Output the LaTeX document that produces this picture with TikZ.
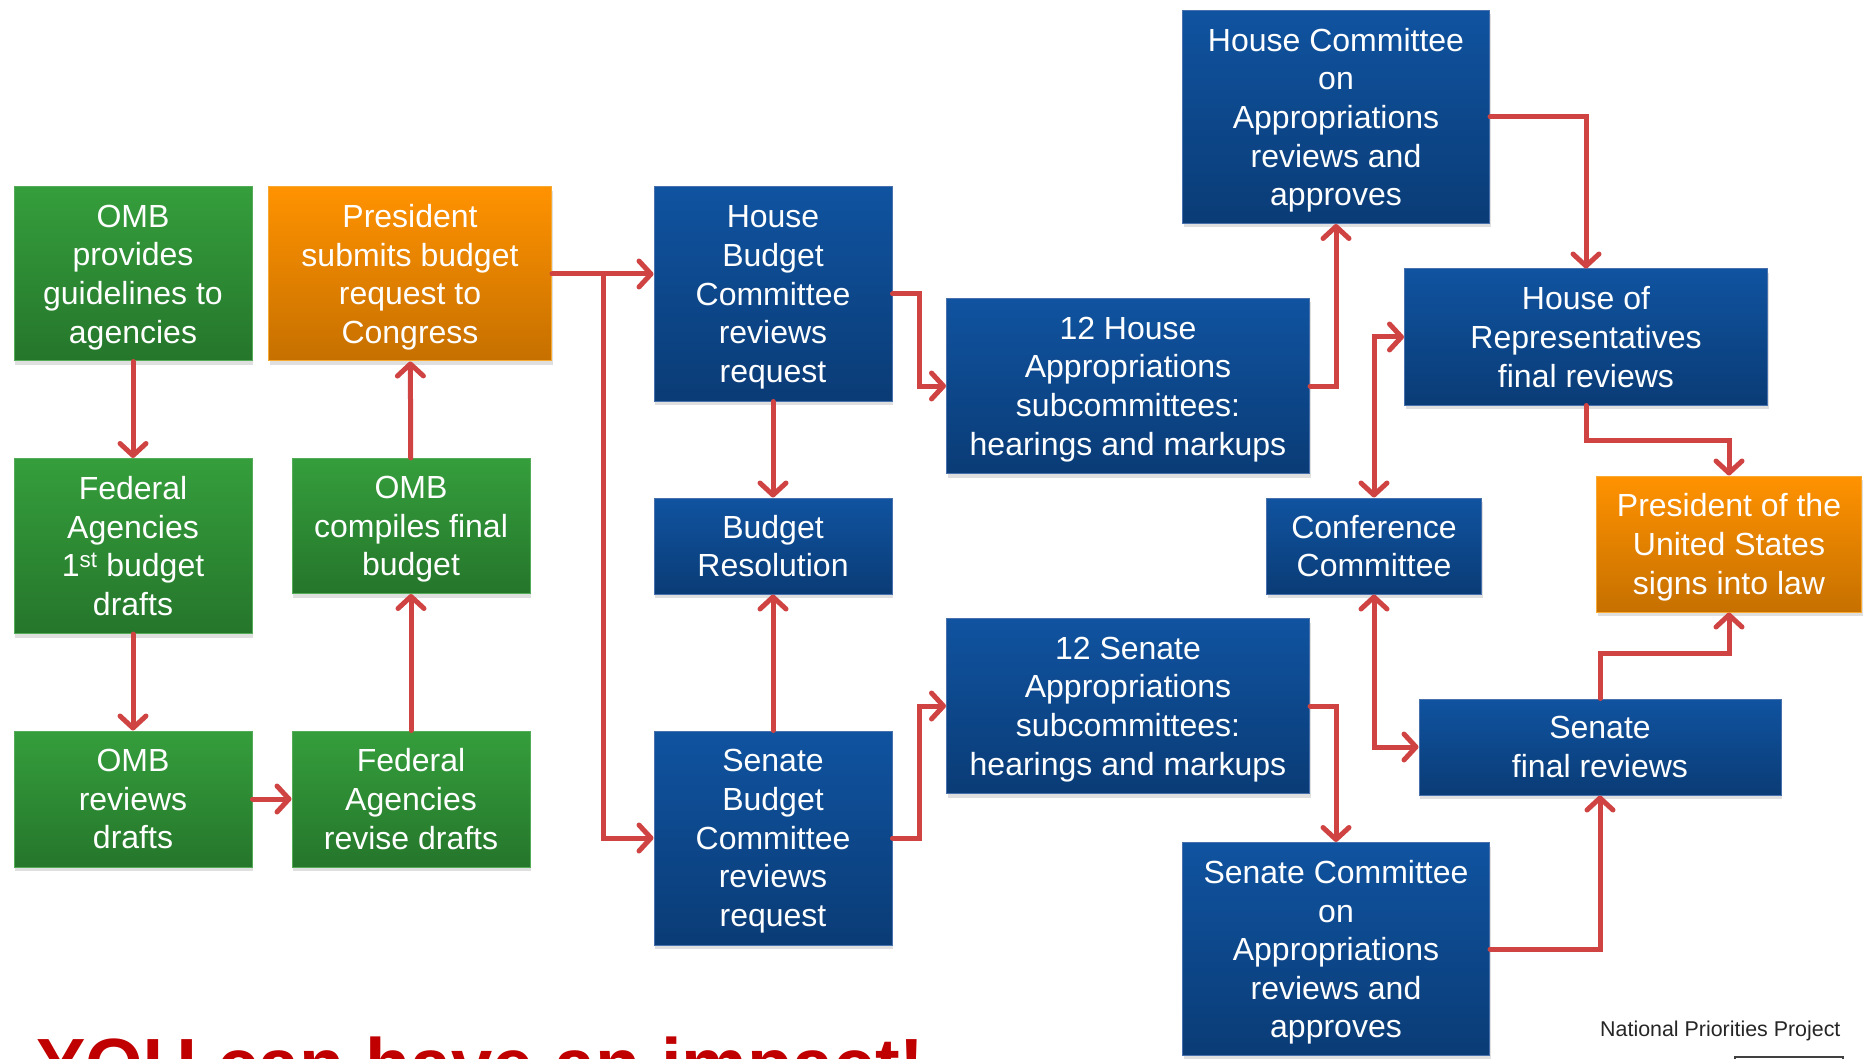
\documentclass[tikz,border=0pt]{standalone}
\usepackage{fontspec}
\setmainfont{Liberation Sans}
\usetikzlibrary{arrows.meta,shadows}

\definecolor{grntop}{RGB}{53,158,60}
\definecolor{grnbot}{RGB}{37,118,43}
\definecolor{grnedge}{RGB}{84,172,88}
\definecolor{orgtop}{RGB}{255,146,0}
\definecolor{orgbot}{RGB}{198,112,0}
\definecolor{orgedge}{RGB}{247,170,50}
\definecolor{blutop}{RGB}{16,83,160}
\definecolor{blubot}{RGB}{10,60,118}
\definecolor{bluedge}{RGB}{72,112,172}
\definecolor{arrowred}{RGB}{208,67,67}
\definecolor{impactred}{RGB}{192,0,0}

\tikzset{
  stage/.style={rectangle, inner sep=0pt, align=center, text=white,
    font=\fontsize{32}{38.6}\selectfont, line width=1pt, text depth=0pt,
    drop shadow={shadow xshift=1pt, shadow yshift=-4pt, opacity=0.25}},
  ombbox/.style={stage, draw=grnedge, top color=grntop, bottom color=grnbot},
  prezbox/.style={stage, draw=orgedge, top color=orgtop, bottom color=orgbot},
  congbox/.style={stage, draw=bluedge, top color=blutop, bottom color=blubot},
  flow/.style={draw=arrowred, line width=5pt, line cap=round,
    -{Straight Barb[length=12pt,width=26pt,round]}},
  flowboth/.style={flow, {Straight Barb[length=12pt,width=26pt,round]}-{Straight Barb[length=12pt,width=26pt,round]}}
}

\begin{document}
\begin{tikzpicture}[x=1pt,y=-1pt]

\fill[white] (0,0) rectangle (1864,1059);
\useasboundingbox (0,0) rectangle (1864,1059);

\node[ombbox, minimum width=238pt, minimum height=174pt] (guide) at (133,274) {OMB\\provides\\guidelines to\\agencies};
\node[prezbox, minimum width=283pt, minimum height=174pt] (submit) at (410,274) {President\\submits budget\\request to\\Congress};
\node[ombbox, minimum width=238pt, minimum height=175pt] (draft) at (133,546) {Federal\\Agencies\\1\textsuperscript{st} budget\\drafts};
\node[ombbox, minimum width=238pt, minimum height=135pt] (compile) at (411,526) {OMB\\compiles final\\budget};
\node[ombbox, minimum width=238pt, minimum height=136pt] (review) at (133,799) {OMB\\reviews\\drafts};
\node[ombbox, minimum width=238pt, minimum height=136pt] (revise) at (411,799) {Federal\\Agencies\\revise drafts};

\node[congbox, minimum width=238pt, minimum height=214pt] (hbudget) at (773,294) {House\\Budget\\Committee\\reviews\\request};
\node[congbox, minimum width=238pt, minimum height=96pt] (resol) at (773,546) {Budget\\Resolution};
\node[congbox, minimum width=238pt, minimum height=214pt] (sbudget) at (773,838) {Senate\\Budget\\Committee\\reviews\\request};

\node[congbox, minimum width=363pt, minimum height=175pt] (hsub) at (1128,386) {12 House\\Appropriations\\subcommittees:\\hearings and markups};
\node[congbox, minimum width=363pt, minimum height=175pt] (ssub) at (1128,706) {12 Senate\\Appropriations\\subcommittees:\\hearings and markups};

\node[congbox, minimum width=307pt, minimum height=213pt] (happ) at (1336,117) {House Committee\\on\\Appropriations\\reviews and\\approves};
\node[congbox, minimum width=307pt, minimum height=213pt] (sapp) at (1336,949) {Senate Committee\\on\\Appropriations\\reviews and\\approves};
\node[congbox, minimum width=215pt, minimum height=96pt] (conf) at (1374,546) {Conference\\Committee};

\node[congbox, minimum width=363pt, minimum height=136pt] (hfinal) at (1586,337) {House of\\Representatives\\final reviews};
\node[congbox, minimum width=362pt, minimum height=96pt] (sfinal) at (1600,747) {Senate\\final reviews};
\node[prezbox, minimum width=265pt, minimum height=136pt] (signs) at (1729,544) {President of the\\United States\\signs into law};

\coordinate (split) at (603,274);

\draw[flow] (guide) -- (draft);
\draw[flow] (draft) -- (review);
\draw[flow] (review) -- (revise);
\draw[flow] (revise) -- (compile);
\draw[flow] (compile) -- (submit);

\draw[flow] (submit.east) -- (submit.east -| hbudget.west);
\draw[flow] (split) |- (sbudget.west);
\draw[flow] (hbudget) -- (resol);
\draw[flow] (sbudget) -- (resol);

\draw[flow] (hbudget.east) -- ++(27,0) |- (hsub.west);
\draw[flow] (sbudget.east) -- ++(27,0) |- (ssub.west);
\draw[flow] (hsub.east) -| (happ.south);
\draw[flow] (ssub.east) -| (sapp.north);
\draw[flow] (happ.east) -| (hfinal.north);
\draw[flow] (sapp.east) -| (sfinal.south);

\draw[flowboth] (conf.north) |- (hfinal.west);
\draw[flowboth] (conf.south) |- (sfinal.west);

\draw[flow] (hfinal.south) -- ++(0,35) -| (signs.north);
\draw[flow] (sfinal.north) -- ++(0,-45) -| (signs.south);

\node[anchor=base west, inner sep=0pt, text=impactred, font=\fontsize{74}{80}\selectfont\bfseries] (impact) at (36,1090) {YOU can have an impact!};
\node[anchor=west, inner sep=0pt, text=black!85, font=\fontsize{21.4}{24}\selectfont] (credit) at (1600,1031) {National Priorities Project};
\draw[line width=1.2pt, black!75] (1735,1057) rectangle (1843,1090);

\end{tikzpicture}
\end{document}
